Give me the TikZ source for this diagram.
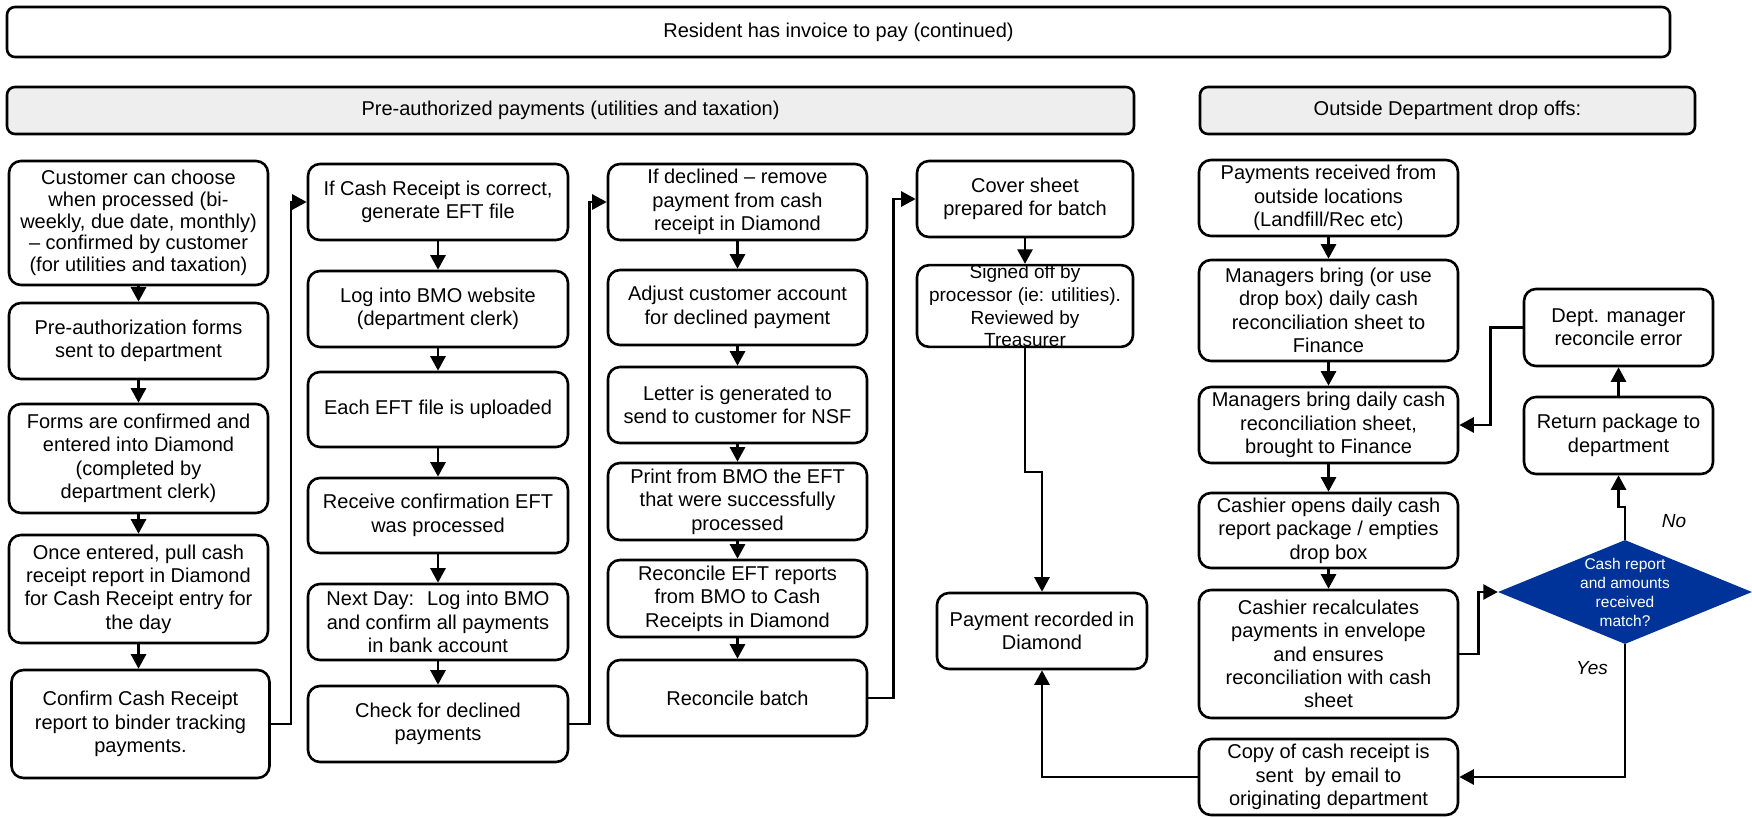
\documentclass[tikz,border=0pt]{standalone}
\usepackage{fontspec}
\setmainfont{Liberation Sans}
\usetikzlibrary{arrows.meta,shapes.geometric}
\definecolor{hdrgray}{RGB}{238,238,238}
\definecolor{decblue}{RGB}{0,51,153}

\begin{document}
\begin{tikzpicture}[x=1pt,y=-1pt,
  box/.style={draw, line width=2.6pt, rounded corners=12pt, align=center,
    inner sep=0pt, font=\fontsize{20pt}{23.4pt}\selectfont},
  hdr/.style={draw, line width=2.6pt, rounded corners=8pt, inner sep=0pt,
    font=\fontsize{20pt}{24pt}\selectfont},
  colA/.style={box, minimum width=259pt},
  colB/.style={box, minimum width=260pt},
  colC/.style={box, minimum width=259pt},
  colD/.style={box, minimum width=216pt},
  colE/.style={box, minimum width=259pt},
  colF/.style={box, minimum width=189pt},
  flow/.style={line width=2.6pt, -{Triangle[length=14.5pt,width=15pt]}},
  yn/.style={font=\fontsize{19pt}{22pt}\selectfont\itshape}
]
\useasboundingbox (0,0) rectangle (1752,818);

% headers
\node[hdr, minimum width=1663pt, minimum height=50pt] (top) at (838.5,32)
  {Resident has invoice to pay (continued)};
\node[hdr, fill=hdrgray, minimum width=1127pt, minimum height=47pt] (pap) at (570.5,110.5)
  {Pre-authorized payments (utilities and taxation)};
\node[hdr, fill=hdrgray, minimum width=495pt, minimum height=47pt] (odd) at (1447.5,110.5)
  {Outside Department drop offs:};

% column 1
\node[colA, minimum height=124pt, font=\fontsize{20pt}{21.8pt}\selectfont] (b1) at (138.5,223)
  {Customer can choose\\when processed (bi-\\weekly, due date, monthly)\\– confirmed by customer\\(for utilities and taxation)};
\node[colA, minimum height=76pt] (b2) at (138.5,341)
  {Pre-authorization forms\\sent to department};
\node[colA, minimum height=109pt] (b3) at (138.5,458.5)
  {Forms are confirmed and\\entered into Diamond\\(completed by\\department clerk)};
\node[colA, minimum height=108pt] (b4) at (138.5,589)
  {Once entered, pull cash\\receipt report in Diamond\\for Cash Receipt entry for\\the day};
\node[colA, minimum width=258pt, minimum height=108pt] (b5) at (140.5,724)
  {Confirm Cash Receipt\\report to binder tracking\\payments.};

% column 2
\node[colB, minimum height=76pt] (b6) at (438,202)
  {If Cash Receipt is correct,\\generate EFT file};
\node[colB, minimum height=76pt] (b7) at (438,309)
  {Log into BMO website\\(department clerk)};
\node[colB, minimum height=75pt] (b8) at (438,409.5)
  {Each EFT file is uploaded};
\node[colB, minimum height=75pt] (b9) at (438,515.5)
  {Receive confirmation EFT\\was processed};
\node[colB, minimum height=76pt] (b10) at (438,622)
  {Next Day:~ Log into BMO\\and confirm all payments\\in bank account};
\node[colB, minimum height=76pt] (b11) at (438,724)
  {Check for declined\\payments};

% column 3
\node[colC, minimum height=76pt] (b12) at (737.5,202)
  {If declined – remove\\payment from cash\\receipt in Diamond};
\node[colC, minimum height=75pt] (b13) at (737.5,307.5)
  {Adjust customer account\\for declined payment};
\node[colC, minimum height=76pt] (b14) at (737.5,405)
  {Letter is generated to\\send to customer for NSF};
\node[colC, minimum height=77pt] (b15) at (737.5,501.5)
  {Print from BMO the EFT\\that were successfully\\processed};
\node[colC, minimum height=77pt] (b16) at (737.5,598.5)
  {Reconcile EFT reports\\from BMO to Cash\\Receipts in Diamond};
\node[colC, minimum height=76pt] (b17) at (737.5,698)
  {Reconcile batch};

% column 4
\node[colD, minimum height=76pt] (b18) at (1025,199)
  {Cover sheet\\prepared for batch};
\node[colD, minimum height=76pt, font=\fontsize{19pt}{22.6pt}\selectfont] (b19) at (1025,306)
  {Signed off by\\processor (ie: utilities).\\Reviewed by\\Treasurer};
\node[box, minimum width=210pt, minimum height=76pt] (b20) at (1042,631)
  {Payment recorded in\\Diamond};

% column 5
\node[colE, minimum height=76pt] (b21) at (1328.5,198)
  {Payments received from\\outside locations\\(Landfill/Rec etc)};
\node[colE, minimum height=101pt] (b22) at (1328.5,310.5)
  {Managers bring (or use\\drop box) daily cash\\reconciliation sheet to\\Finance};
\node[colE, minimum height=76pt] (b23) at (1328.5,425)
  {Managers bring daily cash\\reconciliation sheet,\\brought to Finance};
\node[colE, minimum height=75pt] (b24) at (1328.5,530.5)
  {Cashier opens daily cash\\report package / empties\\drop box};
\node[colE, minimum height=128pt] (b25) at (1328.5,654)
  {Cashier recalculates\\payments in envelope\\and ensures\\reconciliation with cash\\sheet};
\node[colE, minimum height=76pt] (b26) at (1328.5,777)
  {Copy of cash receipt is\\sent~ by email to\\originating department};

% error loop
\node[colF, minimum height=77pt] (dept) at (1618.5,327.5)
  {Dept. manager\\reconcile error};
\node[colF, minimum height=77pt] (ret) at (1618.5,435.5)
  {Return package to\\department};
\node[diamond, fill=decblue, draw=none, inner sep=0pt,
  minimum width=254pt, minimum height=104pt,
  label={[name=dectext, text=white, align=center,
    font=\fontsize{15.5pt}{19pt}\selectfont]center:Cash report\\and amounts\\received\\match?}]
  (dec) at (1625,592) {};
\node[yn] (no) at (1674,521) {No};
\node[yn] (yes) at (1592,668) {Yes};

% column 1 flow
\draw[flow] (b1.south) -- (b2.north);
\draw[flow] (b2.south) -- (b3.north);
\draw[flow] (b3.south) -- (b4.north);
\draw[flow] (b4.south) -- (b4.south |- b5.north);
\draw[flow] (b5.east) -- ++(20,0) |- (b6.west);

% column 2 flow
\draw[flow] (b6.south) -- (b7.north);
\draw[flow] (b7.south) -- (b8.north);
\draw[flow] (b8.south) -- (b9.north);
\draw[flow] (b9.south) -- (b10.north);
\draw[flow] (b10.south) -- (b11.north);
\draw[flow] (b11.east) -- ++(20,0) |- (b12.west);

% column 3 flow
\draw[flow] (b12.south) -- (b13.north);
\draw[flow] (b13.south) -- (b14.north);
\draw[flow] (b14.south) -- (b15.north);
\draw[flow] (b15.south) -- (b16.north);
\draw[flow] (b16.south) -- (b17.north);
\draw[flow] (b17.east) -- ++(25,0) |- (b18.west);

% column 4 flow
\draw[flow] (b18.south) -- (b19.north);
\draw[flow] (b19.south) -- ++(0,124) -| (b20.north);

% column 5 flow
\draw[flow] (b21.south) -- (b22.north);
\draw[flow] (b22.south) -- (b23.north);
\draw[flow] (b23.south) -- (b24.north);
\draw[flow] (b24.south) -- (b25.north);
\draw[flow] (b25.east) -- ++(19,0) |- (dec.west);
\draw[flow] (dec.north) -- ++(0,-33) -| (ret.south);
\draw[flow] (ret.north) -- (dept.south);
\draw[flow] (dept.west) -- ++(-32,0) |- (b23.east);
\draw[flow] (dec.south) |- (b26.east);
\draw[flow] (b26.west) -| (b20.south);
\end{tikzpicture}
\end{document}
